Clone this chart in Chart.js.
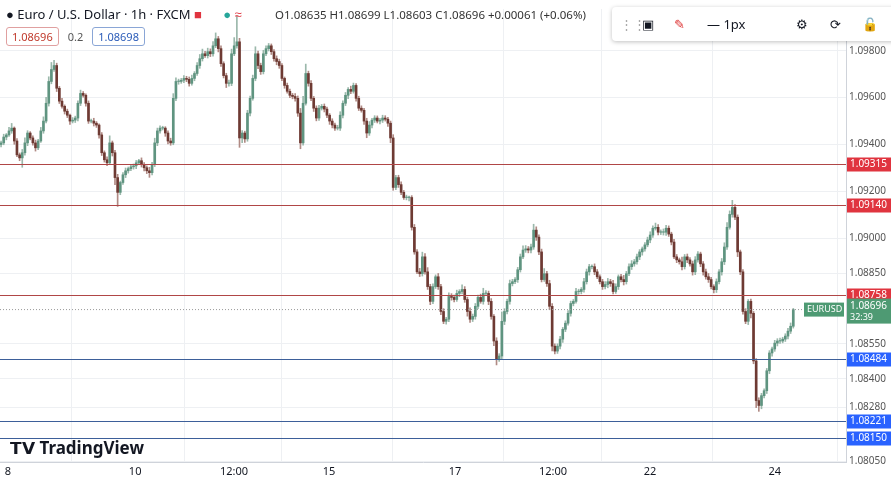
<!DOCTYPE html>
<html>
<head>
<meta charset="utf-8">
<script src="https://cdn.jsdelivr.net/npm/chart.js@4.4.1/dist/chart.umd.min.js"></script>
<style>
body{margin:0;background:#fff;font-family:"Noto Sans",Arial,sans-serif;}
#wrap{position:relative;width:891px;height:490px;}
#head{position:absolute;left:6px;top:5px;font-size:13px;color:#131722;white-space:nowrap;}
#head .ohlc{font-size:11.5px;margin-left:30px;color:#333;}
#bx{position:absolute;left:6px;top:27px;font-size:11px;}
#bx span{display:inline-block;padding:1px 5px;border-radius:3px;margin-right:4px;}
#tools{position:absolute;left:612px;top:7px;width:290px;height:34px;background:#fff;border-radius:4px;
 box-shadow:0 1px 4px rgba(0,0,0,.25);font-size:13px;color:#131722;}
#tools span{position:absolute;top:8px;}
#logo{position:absolute;left:10px;top:436px;font-size:17px;font-weight:bold;color:#131722;}
</style>
</head>
<body>
<div id="wrap">
<canvas id="c" width="891" height="490"></canvas>
<div id="head">● Euro / U.S. Dollar · 1h · FXCM <span style="color:#e0343f">■</span> <span style="color:#26a69a;margin-left:18px">●</span> <span style="color:#e0343f">≈</span>
<span class="ohlc">O1.08635 H1.08699 L1.08603 C1.08696 +0.00061 (+0.06%)</span></div>
<div id="bx"><span style="border:1px solid #e0a0a0;color:#c0392b">1.08696</span><span style="color:#555">0.2</span><span style="border:1px solid #8aa6d6;color:#2a5bb8">1.08698</span></div>
<div id="tools"><span style="left:8px;color:#aaa">⋮⋮</span><span style="left:30px">▣</span><span style="left:62px;color:#d33">✎</span><span style="left:95px">— 1px</span><span style="left:184px">⚙</span><span style="left:218px">⟳</span><span style="left:250px">🔓</span></div>
<div id="logo">𝗧𝗩 TradingView</div>
</div>
<script>
// closes in 1e-5 above 1.08000, one per hour
const closes=[
1407,1432,1441,1458,1470,1415,1356,1343,1365,1407,
1449,1428,1407,1386,1415,1458,1500,1576,1669,1720,
1737,1640,1585,1563,1542,1525,1500,1504,1513,1576,
1618,1610,1576,1500,1500,1491,1483,1441,1365,1335,
1322,1407,1365,1259,1196,1238,1271,1288,1297,1305,
1309,1322,1331,1314,1301,1288,1280,1314,1407,1458,
1470,1470,1449,1415,1407,1597,1669,1669,1674,1682,
1678,1661,1682,1703,1737,1766,1787,1779,1796,1787,
1821,1851,1809,1745,1694,1661,1661,1787,1821,1838,
1428,1449,1424,1534,1597,1682,1787,1737,1711,1787,
1809,1821,1796,1766,1754,1737,1682,1652,1627,1610,
1605,1597,1534,1407,1576,1703,1661,1597,1555,1513,
1555,1563,1551,1525,1500,1483,1470,1470,1525,1576,
1610,1635,1627,1652,1597,1555,1546,1500,1449,1483,
1504,1513,1500,1504,1513,1508,1491,1428,1217,1259,
1229,1196,1174,1174,1174,1047,942,857,849,921,
857,794,731,794,836,794,688,646,655,752,
748,739,765,773,782,739,688,655,667,710,
748,731,765,765,731,667,562,485,498,646,
688,731,807,815,824,866,921,950,955,950,
963,1035,1005,942,824,849,807,710,540,519,
540,570,612,638,680,722,731,773,773,782,
815,857,879,879,857,836,815,794,803,815,
807,773,794,836,824,815,849,879,891,900,
921,942,955,972,993,1014,1043,1047,1026,1026,
1026,1043,1018,984,921,908,900,879,921,908,
891,857,908,933,891,857,836,824,794,781,
815,857,900,963,1047,1102,1132,1090,942,857,
688,646,731,680,477,308,287,329,350,435,
511,528,553,562,562,570,583,604,625,696];
const wickUp=[
8,12,6,15,20,5,10,8,14,22, 10,6,9,12,7,15,18,25,20,30, 22,10,8,12,6,9,5,11,8,10,
14,8,6,10,9,12,7,5,10,8, 12,30,8,10,14,6,9,12,7,10, 8,10,6,12,9,8,15,10,20,12,
10,8,6,9,12,20,15,10,8,12, 9,10,14,8,12,18,20,10,15,12, 18,25,10,12,8,10,14,20,35,110,
15,10,8,12,10,14,30,12,10,15, 12,10,8,9,12,10,8,6,10,9, 8,12,10,20,30,40,10,12,8,10,
12,8,10,9,7,10,8,12,15,10, 12,8,14,10,8,9,10,8,12,15, 8,10,9,8,12,10,8,9,14,10,
10,12,8,10,6,8,12,10,15,20, 14,18,10,12,8,14,10,12,8,15, 12,10,14,8,20,12,10,16,10,12,
10,14,22,12,10,12,8,14,10,40, 12,10,15,10,8,10,12,18,14,10, 12,25,14,10,12,22,10,14,12,10,
10,12,8,10,12,10,8,14,10,8, 14,12,10,8,12,10,8,10,12,14, 10,14,12,8,10,18,10,12,14,10,
12,10,8,10,12,14,10,18,12,10, 14,12,10,8,12,10,8,20,10,12, 10,12,14,10,8,10,12,14,10,8,
12,10,14,18,20,15,30,12,10,8, 10,12,8,10,8,10,12,10,8,10, 10,8,12,10,12,8,10,12,14,5];
const wickDn=[
10,8,12,6,10,14,8,12,40,10, 12,8,10,14,8,6,10,8,12,10, 8,14,10,8,12,10,14,8,10,12,
10,8,12,10,8,12,10,14,12,10, 12,8,14,30,60,10,8,12,10,8, 10,12,8,10,14,12,20,10,8,12,
10,8,14,12,10,8,10,12,8,10, 10,12,8,10,8,12,10,8,10,12, 10,8,14,12,10,18,12,10,8,10,
40,20,15,10,12,8,10,14,12,10, 8,10,12,10,14,12,10,12,8,10, 10,12,14,25,10,8,12,10,14,12,
10,8,12,10,14,12,10,8,10,12, 10,14,10,8,12,10,8,14,20,10, 12,10,8,12,10,8,14,20,12,10,
12,10,8,10,14,12,10,8,12,10, 10,12,14,10,8,12,14,10,12,10, 12,10,8,14,10,12,20,14,10,12,
10,8,12,10,14,12,20,25,10,12, 14,10,12,10,8,12,10,8,10,12, 12,10,14,12,10,8,12,14,20,12,
10,12,14,10,8,12,10,8,12,10, 12,10,14,10,12,8,10,12,10,14, 12,10,8,12,10,14,10,8,12,10,
10,12,14,10,8,12,10,8,12,10, 12,14,10,12,8,12,10,14,10,12, 10,14,12,10,12,14,10,12,10,14,
12,10,14,12,10,8,12,10,20,12, 12,10,14,20,12,30,25,14,10,12, 12,14,10,12,10,8,10,12,10,8];
const firstOpen=1400;
const yTicks=[1.098,1.096,1.094,1.092,1.090,1.0885,1.0855,1.084,1.0828,1.0805];
const xTickPos=[2.6,50.6,87.9,123.8,171.3,208.3,244.9,292];
const xTickText=["8","10","12:00","15","17","12:00","22","24"];
const levels=[1.09315,1.0914,1.08758,1.08484,1.08221,1.0815];
const levelColors=["#e0343f","#e0343f","#e0343f","#2962ff","#2962ff","#2962ff"];
const lastPrice=1.08696;

const px=v=>1.08+v/1e5;
const bodies=[],wicks=[],bodyCol=[],wickCol=[];
closes.forEach((c,i)=>{
  const o=i?closes[i-1]:firstOpen;
  const up=c>=o;
  const hi=Math.max(o,c)+wickUp[i], lo=Math.min(o,c)-wickDn[i];
  let b1=o,b2=c; if(Math.abs(c-o)<2){b2=c+(up?2:-2);}
  bodies.push({x:i,y:[px(b1),px(b2)]});
  wicks.push({x:i,y:[px(lo),px(hi)]});
  bodyCol.push(up?"#5f9480":"#6e3a33");
  wickCol.push(up?"#9bb8ab":"#b08a84");
});

const overlay={
  id:"overlay",
  afterDatasetsDraw(ch){
    const {ctx,chartArea:a,scales:{y}}=ch;
    ctx.save();
    ctx.font="10px 'Noto Sans'";
    ctx.textBaseline="middle";
    const ly=y.getPixelForValue(lastPrice);
    ctx.setLineDash([1,2]);ctx.strokeStyle="#999";ctx.lineWidth=1;
    ctx.beginPath();ctx.moveTo(a.left,ly);ctx.lineTo(a.right,ly);ctx.stroke();
    ctx.setLineDash([]);
    levels.forEach((v,i)=>{
      const yy=Math.round(y.getPixelForValue(v))+0.5;
      ctx.strokeStyle=i<3?"#b04646":"#3d5f99";
      ctx.beginPath();ctx.moveTo(a.left,yy);ctx.lineTo(a.right,yy);ctx.stroke();
      ctx.fillStyle=levelColors[i];
      ctx.fillRect(a.right+1,yy-7,44,14);
      ctx.fillStyle="#fff";ctx.fillText(v.toFixed(5),a.right+4,yy);
    });
    ctx.fillStyle="#4e9a73";
    ctx.fillRect(a.right+1,ly-11,44,25);
    ctx.fillRect(a.right-42,ly-7,40,14);
    ctx.fillStyle="#fff";
    ctx.fillText(lastPrice.toFixed(5),a.right+4,ly-3);
    ctx.font="9px 'Noto Sans'";
    ctx.fillText("32:39",a.right+4,ly+8);
    ctx.fillText("EURUSD",a.right-39,ly);
    ctx.restore();
  }
};

new Chart(document.getElementById("c"),{
  type:"bar",
  data:{datasets:[
    {data:wicks,backgroundColor:wickCol,barThickness:1,grouped:false,order:2},
    {data:bodies,backgroundColor:bodyCol,barThickness:2,grouped:false,order:1}
  ]},
  options:{
    responsive:false,animation:false,
    layout:{padding:{top:5}},
    plugins:{legend:{display:false},tooltip:{enabled:false}},
    scales:{
      x:{type:"linear",min:-0.4,max:318.9,offset:false,
        afterBuildTicks:s=>{s.ticks=xTickPos.map(v=>({value:v}));},
        afterFit:s=>{s.height=28;},
        ticks:{color:"#131722",font:{size:11,family:"Noto Sans"},maxRotation:0,
          callback:(v,i)=>xTickText[i]},
        grid:{color:"#eef0f3",drawTicks:false},border:{color:"#cfd3da"}},
      y:{position:"right",min:1.08046,max:1.09978,
        afterBuildTicks:s=>{s.ticks=yTicks.map(v=>({value:v}));},
        afterFit:s=>{s.width=45;},
        ticks:{color:"#555",font:{size:10,family:"Noto Sans"},padding:3,
          callback:v=>v.toFixed(5)},
        grid:{color:"#eef0f3",drawTicks:false},border:{color:"#cfd3da"}}
    }
  },
  plugins:[overlay]
});
</script>
</body>
</html>
